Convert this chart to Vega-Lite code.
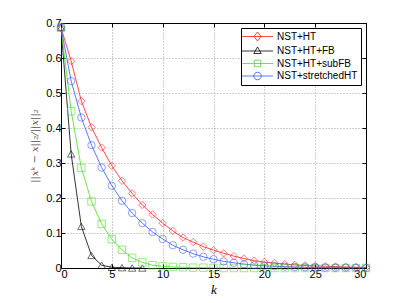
{
  "$schema": "https://vega.github.io/schema/vega-lite/v6.json",
  "width": 305,
  "height": 245,
  "autosize": {"type": "none"},
  "padding": {"left": 61, "top": 23, "right": 37, "bottom": 35},
  "background": "white",
  "config": {
    "view": {"stroke": "black", "strokeWidth": 1},
    "font": "Liberation Sans",
    "axis": {
      "domainColor": "black",
      "tickColor": "black",
      "tickSize": -4,
      "labelColor": "black",
      "labelFont": "Liberation Sans",
      "labelFontSize": 11,
      "gridColor": "#a0a0a0",
      "gridDash": [1, 2],
      "gridWidth": 1
    }
  },
  "data": {
    "values": [
      {"k": 0, "v": 0.687, "s": "NST+HT"}, {"k": 1, "v": 0.591, "s": "NST+HT"}, {"k": 2, "v": 0.477, "s": "NST+HT"}, {"k": 3, "v": 0.402, "s": "NST+HT"}, {"k": 4, "v": 0.344, "s": "NST+HT"}, {"k": 5, "v": 0.292, "s": "NST+HT"}, {"k": 6, "v": 0.249, "s": "NST+HT"}, {"k": 7, "v": 0.213, "s": "NST+HT"}, {"k": 8, "v": 0.180, "s": "NST+HT"}, {"k": 9, "v": 0.153, "s": "NST+HT"}, {"k": 10, "v": 0.128, "s": "NST+HT"}, {"k": 11, "v": 0.106, "s": "NST+HT"}, {"k": 12, "v": 0.087, "s": "NST+HT"}, {"k": 13, "v": 0.074, "s": "NST+HT"}, {"k": 14, "v": 0.061, "s": "NST+HT"}, {"k": 15, "v": 0.051, "s": "NST+HT"}, {"k": 16, "v": 0.042, "s": "NST+HT"}, {"k": 17, "v": 0.034, "s": "NST+HT"}, {"k": 18, "v": 0.027, "s": "NST+HT"}, {"k": 19, "v": 0.021, "s": "NST+HT"}, {"k": 20, "v": 0.017, "s": "NST+HT"}, {"k": 21, "v": 0.014, "s": "NST+HT"}, {"k": 22, "v": 0.011, "s": "NST+HT"}, {"k": 23, "v": 0.009, "s": "NST+HT"}, {"k": 24, "v": 0.007, "s": "NST+HT"}, {"k": 25, "v": 0.006, "s": "NST+HT"}, {"k": 26, "v": 0.005, "s": "NST+HT"}, {"k": 27, "v": 0.004, "s": "NST+HT"}, {"k": 28, "v": 0.003, "s": "NST+HT"}, {"k": 29, "v": 0.002, "s": "NST+HT"}, {"k": 30, "v": 0.002, "s": "NST+HT"},
      {"k": 0, "v": 0.687, "s": "NST+HT+FB"}, {"k": 1, "v": 0.326, "s": "NST+HT+FB"}, {"k": 2, "v": 0.119, "s": "NST+HT+FB"}, {"k": 3, "v": 0.036, "s": "NST+HT+FB"}, {"k": 4, "v": 0.008, "s": "NST+HT+FB"}, {"k": 5, "v": 0.002, "s": "NST+HT+FB"}, {"k": 6, "v": 0.001, "s": "NST+HT+FB"}, {"k": 7, "v": 0.0, "s": "NST+HT+FB"}, {"k": 8, "v": 0.0, "s": "NST+HT+FB"},
      {"k": 0, "v": 0.687, "s": "NST+HT+subFB"}, {"k": 1, "v": 0.448, "s": "NST+HT+subFB"}, {"k": 2, "v": 0.286, "s": "NST+HT+subFB"}, {"k": 3, "v": 0.190, "s": "NST+HT+subFB"}, {"k": 4, "v": 0.126, "s": "NST+HT+subFB"}, {"k": 5, "v": 0.082, "s": "NST+HT+subFB"}, {"k": 6, "v": 0.052, "s": "NST+HT+subFB"}, {"k": 7, "v": 0.029, "s": "NST+HT+subFB"}, {"k": 8, "v": 0.016, "s": "NST+HT+subFB"}, {"k": 9, "v": 0.008, "s": "NST+HT+subFB"}, {"k": 10, "v": 0.005, "s": "NST+HT+subFB"}, {"k": 11, "v": 0.003, "s": "NST+HT+subFB"}, {"k": 12, "v": 0.002, "s": "NST+HT+subFB"}, {"k": 13, "v": 0.001, "s": "NST+HT+subFB"}, {"k": 14, "v": 0.001, "s": "NST+HT+subFB"}, {"k": 15, "v": 0.0, "s": "NST+HT+subFB"}, {"k": 16, "v": 0.0, "s": "NST+HT+subFB"}, {"k": 17, "v": 0.0, "s": "NST+HT+subFB"}, {"k": 18, "v": 0.0, "s": "NST+HT+subFB"}, {"k": 19, "v": 0.0, "s": "NST+HT+subFB"}, {"k": 20, "v": 0.0, "s": "NST+HT+subFB"}, {"k": 21, "v": 0.0, "s": "NST+HT+subFB"}, {"k": 22, "v": 0.0, "s": "NST+HT+subFB"}, {"k": 23, "v": 0.0, "s": "NST+HT+subFB"}, {"k": 24, "v": 0.0, "s": "NST+HT+subFB"}, {"k": 25, "v": 0.0, "s": "NST+HT+subFB"}, {"k": 26, "v": 0.0, "s": "NST+HT+subFB"}, {"k": 27, "v": 0.0, "s": "NST+HT+subFB"}, {"k": 28, "v": 0.0, "s": "NST+HT+subFB"}, {"k": 29, "v": 0.0, "s": "NST+HT+subFB"}, {"k": 30, "v": 0.0, "s": "NST+HT+subFB"},
      {"k": 0, "v": 0.687, "s": "NST+stretchedHT"}, {"k": 1, "v": 0.534, "s": "NST+stretchedHT"}, {"k": 2, "v": 0.430, "s": "NST+stretchedHT"}, {"k": 3, "v": 0.351, "s": "NST+stretchedHT"}, {"k": 4, "v": 0.287, "s": "NST+stretchedHT"}, {"k": 5, "v": 0.235, "s": "NST+stretchedHT"}, {"k": 6, "v": 0.192, "s": "NST+stretchedHT"}, {"k": 7, "v": 0.157, "s": "NST+stretchedHT"}, {"k": 8, "v": 0.128, "s": "NST+stretchedHT"}, {"k": 9, "v": 0.103, "s": "NST+stretchedHT"}, {"k": 10, "v": 0.083, "s": "NST+stretchedHT"}, {"k": 11, "v": 0.065, "s": "NST+stretchedHT"}, {"k": 12, "v": 0.052, "s": "NST+stretchedHT"}, {"k": 13, "v": 0.041, "s": "NST+stretchedHT"}, {"k": 14, "v": 0.032, "s": "NST+stretchedHT"}, {"k": 15, "v": 0.025, "s": "NST+stretchedHT"}, {"k": 16, "v": 0.019, "s": "NST+stretchedHT"}, {"k": 17, "v": 0.015, "s": "NST+stretchedHT"}, {"k": 18, "v": 0.011, "s": "NST+stretchedHT"}, {"k": 19, "v": 0.008, "s": "NST+stretchedHT"}, {"k": 20, "v": 0.006, "s": "NST+stretchedHT"}, {"k": 21, "v": 0.005, "s": "NST+stretchedHT"}, {"k": 22, "v": 0.004, "s": "NST+stretchedHT"}, {"k": 23, "v": 0.003, "s": "NST+stretchedHT"}, {"k": 24, "v": 0.002, "s": "NST+stretchedHT"}, {"k": 25, "v": 0.002, "s": "NST+stretchedHT"}, {"k": 26, "v": 0.001, "s": "NST+stretchedHT"}, {"k": 27, "v": 0.001, "s": "NST+stretchedHT"}, {"k": 28, "v": 0.001, "s": "NST+stretchedHT"}, {"k": 29, "v": 0.001, "s": "NST+stretchedHT"}, {"k": 30, "v": 0.0, "s": "NST+stretchedHT"}
    ]
  },
  "layer": [
    {
      "mark": {"type": "line", "strokeWidth": 0.8, "clip": true},
      "encoding": {
        "x": {"field": "k", "type": "quantitative", "scale": {"domain": [0, 30], "nice": false, "zero": false},
          "axis": {"values": [0, 5, 10, 15, 20, 25, 30], "title": "k", "titleFont": "Liberation Serif", "titleFontStyle": "italic", "titleFontWeight": "normal", "titleFontSize": 13, "titleColor": "black", "titlePadding": 4, "labelPadding": 4, "grid": true}},
        "y": {"field": "v", "type": "quantitative", "scale": {"domain": [0, 0.7], "nice": false},
          "axis": {"values": [0, 0.1, 0.2, 0.3, 0.4, 0.5, 0.6, 0.7], "format": ".1~f", "title": "||xᵏ − x||₂/||x||₂", "titleFont": "DejaVu Serif", "titleFontStyle": "italic", "titleFontWeight": "normal", "titleFontSize": 10, "titleColor": "#555555", "titlePadding": 6, "labelPadding": 4, "grid": true}},
        "color": {"field": "s", "type": "nominal",
          "scale": {"domain": ["NST+HT", "NST+HT+FB", "NST+HT+subFB", "NST+stretchedHT"], "range": ["#ff1a1a", "#000000", "#44e01a", "#3355ff"]},
          "legend": {
            "title": null, "orient": "top-right", "offset": 5,
            "strokeColor": "black", "fillColor": "white", "padding": 3,
            "symbolSize": 100, "symbolStrokeWidth": 0.8, "symbolOffset": 8, "rowPadding": 1.5,
            "labelFont": "Liberation Sans", "labelFontSize": 10, "labelColor": "black", "labelOffset": 14}}
      }
    },
    {
      "mark": {"type": "point", "filled": false, "strokeWidth": 0.8, "size": 55, "clip": false},
      "encoding": {
        "x": {"field": "k", "type": "quantitative", "axis": {"values": [0, 5, 10, 15, 20, 25, 30], "labels": false, "title": null, "grid": false}},
        "y": {"field": "v", "type": "quantitative", "axis": {"values": [0, 0.1, 0.2, 0.3, 0.4, 0.5, 0.6, 0.7], "labels": false, "title": null, "grid": false}},
        "color": {"field": "s", "type": "nominal", "legend": null},
        "shape": {"condition": [
          {"test": "datum.s === 'NST+HT'", "value": "diamond"},
          {"test": "datum.s === 'NST+HT+FB'", "value": "triangle-up"},
          {"test": "datum.s === 'NST+HT+subFB'", "value": "square"}
        ], "value": "circle"}
      }
    },
    {
      "mark": {"type": "point", "filled": false, "strokeWidth": 0.8, "opacity": 0},
      "encoding": {
        "x": {"field": "k", "type": "quantitative", "axis": null},
        "y": {"field": "v", "type": "quantitative", "axis": null},
        "color": {"field": "s", "type": "nominal", "legend": null},
        "shape": {"field": "s", "type": "nominal", "legend": null,
          "scale": {"domain": ["NST+HT", "NST+HT+FB", "NST+HT+subFB", "NST+stretchedHT"], "range": ["M-3.1,0H3.1M0,-0.9L0.7,0L0,0.9L-0.7,0Z", "M-3.1,0H3.1M0,-0.8L0.75,0.5L-0.75,0.5Z", "M-3.1,0H3.1M-0.65,-0.65H0.65V0.65H-0.65Z", "M-3.1,0H3.1M0.75,0A0.75,0.75,0,1,1,-0.75,0A0.75,0.75,0,1,1,0.75,0Z"]}}
      }
    }
  ],
  "resolve": {"axis": {"x": "independent", "y": "independent"}}
}
